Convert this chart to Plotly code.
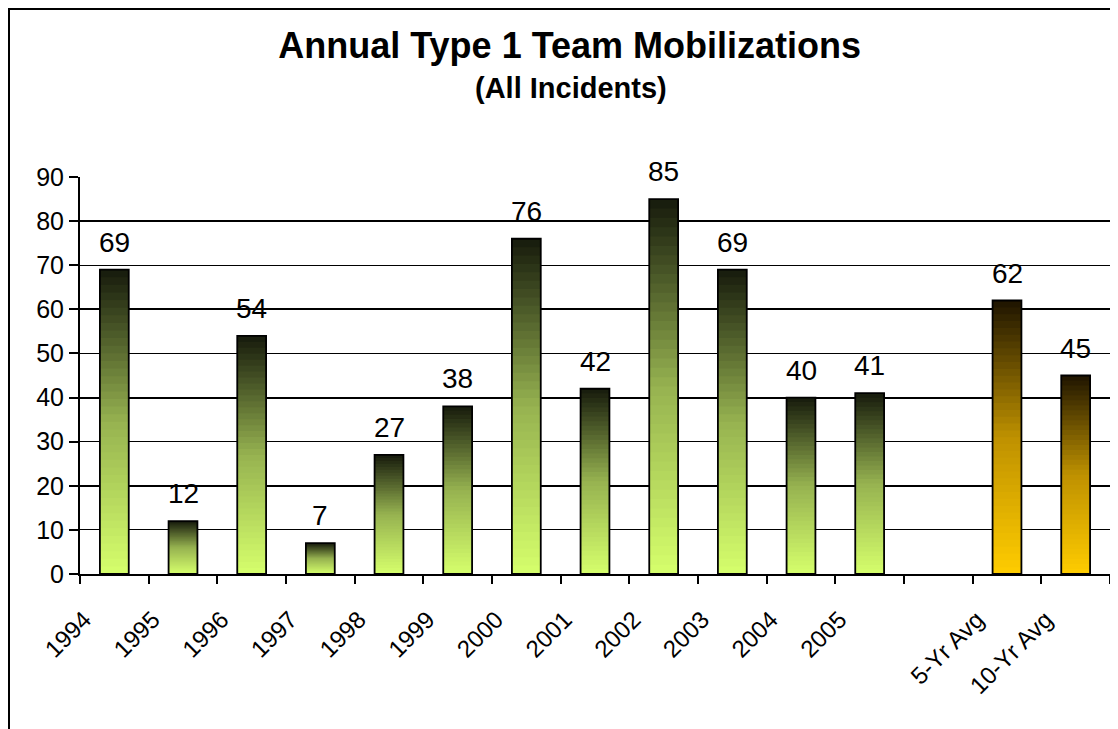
import plotly.graph_objects as go

# --- data ---------------------------------------------------------------
categories = [
    "1994", "1995", "1996", "1997", "1998", "1999", "2000", "2001",
    "2002", "2003", "2004", "2005", " ", "5-Yr Avg", "10-Yr Avg",
]
mobilizations = [69, 12, 54, 7, 27, 38, 76, 42, 85, 69, 40, 41, None, 62, 45]
is_average = [False] * 13 + [True, True]
y_ticks = [0, 10, 20, 30, 40, 50, 60, 70, 80, 90]

FONT = "Liberation Sans, Arial, sans-serif"
N_SLICES = 40
BAR_WIDTH = 0.42

# the page body has an 8px margin, so the figure is drawn 8px smaller
FIG_W, FIG_H = 1110, 721

# gradient stops (bottom -> top of each bar)
GREEN_STOPS = [(214, 255, 108), (150, 178, 80), (22, 26, 12)]
GOLD_STOPS = [(255, 204, 0), (190, 145, 0), (30, 20, 0)]


def _interp(stops, t):
    if t <= 0.5:
        a, b, f = stops[0], stops[1], t / 0.5
    else:
        a, b, f = stops[1], stops[2], (t - 0.5) / 0.5
    r, g, bl = (round(a[k] + (b[k] - a[k]) * f) for k in range(3))
    return f"rgb({r},{g},{bl})"


fig = go.Figure()

# fake a vertical gradient: each slice runs from its base to the bar top,
# later (higher) slices paint over the earlier ones
for i in range(N_SLICES):
    frac = i / N_SLICES
    t = (i + 0.5) / N_SLICES
    bases = [v * frac if v is not None else None for v in mobilizations]
    heights = [v - v * frac if v is not None else None for v in mobilizations]
    colors = [_interp(GOLD_STOPS if avg else GREEN_STOPS, t) for avg in is_average]
    fig.add_trace(
        go.Bar(
            x=categories,
            y=heights,
            base=bases,
            width=BAR_WIDTH,
            marker={"color": colors, "line": {"width": 0}},
            showlegend=False,
            hoverinfo="skip",
        )
    )

# outline on the overlaid axis (also makes its gridlines render)
fig.add_trace(
    go.Bar(
        x=categories,
        y=mobilizations,
        width=BAR_WIDTH,
        yaxis="y2",
        marker={"color": "rgba(0,0,0,0)", "line": {"color": "black", "width": 1.8}},
        showlegend=False,
    )
)

# value labels sit a little above the bars (x by category index:
# numeric-looking names would be read as positions)
value_labels = [
    {
        "x": idx,
        "y": v,
        "text": str(v),
        "xref": "x",
        "yref": "y",
        "yanchor": "bottom",
        "yshift": 10,
        "showarrow": False,
        "font": {"size": 28, "family": FONT, "color": "black"},
    }
    for idx, v in enumerate(mobilizations)
    if v is not None
]

fig.update_layout(
    width=FIG_W,
    height=FIG_H,
    barmode="overlay",
    paper_bgcolor="white",
    plot_bgcolor="white",
    margin={"l": 72, "r": 8, "t": 169, "b": 155},
    font={"family": FONT, "color": "black"},
    title={
        "text": "<b>Annual Type 1 Team Mobilizations</b>",
        "font": {"size": 36, "family": FONT},
        "x": 0.506,
        "xref": "container",
        "y": 1 - 37 / FIG_H,
        "yref": "container",
        "yanchor": "middle",
    },
    annotations=value_labels
    + [
        {
            "text": "<b>(All Incidents)</b>",
            "xref": "paper",
            "yref": "paper",
            "x": (571 - 80) / 1030,
            "y": (574 - 88) / 397,
            "xanchor": "center",
            "yanchor": "middle",
            "showarrow": False,
            "font": {"size": 29, "family": FONT},
        }
    ],
    xaxis={
        "type": "category",
        "range": [-0.5, len(categories) - 0.5],
        "automargin": False,
        "tickson": "boundaries",
        "ticks": "outside",
        "ticklen": 8,
        "tickwidth": 2,
        "tickcolor": "black",
        "showline": True,
        "linecolor": "black",
        "linewidth": 2,
        "showgrid": False,
        "tickangle": -45,
        "tickfont": {"size": 24, "family": FONT},
        "ticklabelshift": -30,
        "ticklabelstandoff": 20,
    },
    yaxis={
        "range": [0, 90],
        "automargin": False,
        "tickvals": y_ticks,
        "ticktext": [str(v) for v in y_ticks],
        "ticks": "outside",
        "ticklen": 9,
        "tickwidth": 2,
        "tickcolor": "black",
        "showline": True,
        "linecolor": "black",
        "linewidth": 2,
        "showgrid": False,
        "zeroline": False,
        "tickfont": {"size": 25, "family": FONT},
        "minor": {
            "tickvals": [20, 40, 60, 80],
            "showgrid": True,
            "gridcolor": "black",
            "gridwidth": 2,
            "ticklen": 0,
        },
    },
    yaxis2={
        "overlaying": "y",
        "automargin": False,
        "range": [0, 90],
        "tickvals": [10, 30, 50, 70],
        "showticklabels": False,
        "ticks": "",
        "showline": False,
        "showgrid": True,
        "gridcolor": "black",
        "gridwidth": 1,
        "zeroline": False,
    },
    shapes=[
        {
            "type": "rect",
            "xref": "paper",
            "yref": "paper",
            "x0": (9 - 80) / 1030,
            "x1": 1.03,
            "y0": -0.45,
            "y1": (574 - 9) / 397,
            "line": {"color": "black", "width": 2},
            "fillcolor": "rgba(0,0,0,0)",
            "layer": "below",
        }
    ],
)

fig.write_html("out.html")
